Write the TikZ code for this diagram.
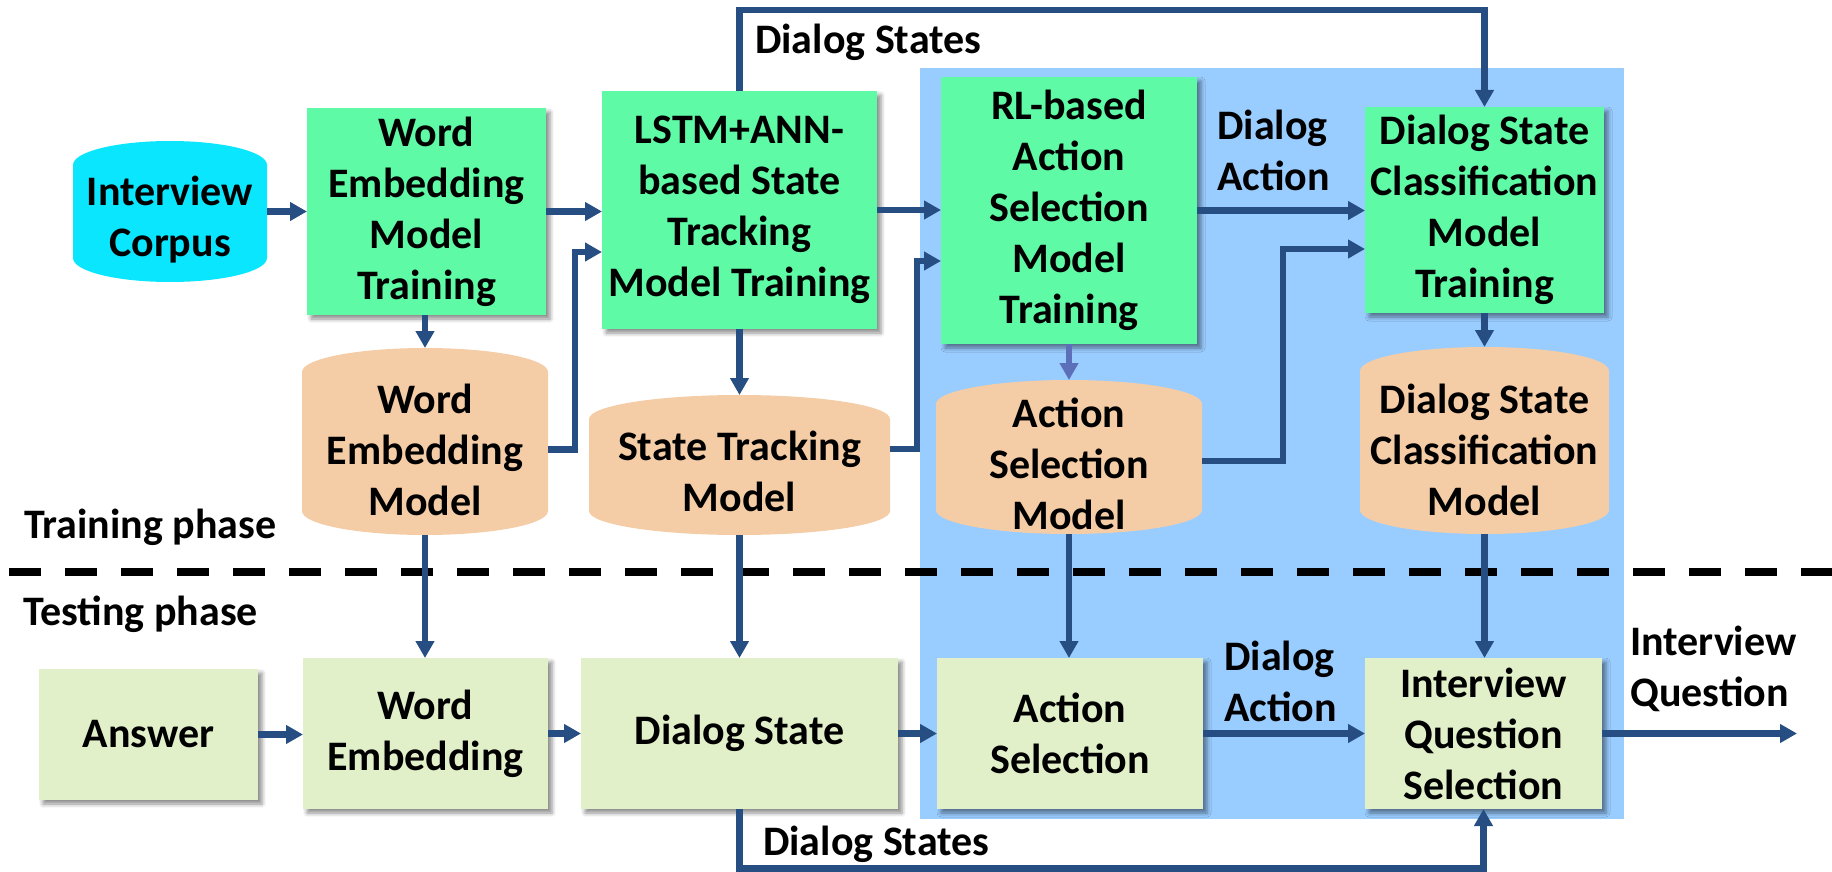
\documentclass[tikz,border=0pt]{standalone}
\usepackage{fontspec}
\setmainfont{Carlito}
\usetikzlibrary{arrows.meta,calc,shadows.blur}
\definecolor{mint}{HTML}{5FFAA5}
\definecolor{paleg}{HTML}{E2F0CA}
\definecolor{peach}{HTML}{F4CCA6}
\definecolor{cyanc}{HTML}{0BE6FF}
\definecolor{region}{HTML}{99CCFF}
\definecolor{arr}{HTML}{264E83}
\definecolor{arrlight}{HTML}{5C6FB9}
\tikzset{
  box/.style={rectangle, inner sep=0pt, outer sep=0pt, align=center,
    blur shadow={shadow xshift=4pt, shadow yshift=-4pt, shadow blur radius=4pt, shadow opacity=45}},
  trainbox/.style={box, fill=mint},
  testbox/.style={box, fill=paleg},
  can/.style={rectangle, inner sep=0pt, outer sep=0pt,
    path picture={\fill[#1] let \p1=(path picture bounding box.north west),
      \p2=(path picture bounding box.south east), \n1={(\x2-\x1)/2} in
      (\x1,\y1-24pt) arc[start angle=180,end angle=0,x radius=\n1,y radius=24pt]
      -- (\x2,\y2+24pt) arc[start angle=0,end angle=-180,x radius=\n1,y radius=24pt] -- cycle;}},
  cantext/.style={align=center, inner sep=0pt},
  conn/.style={draw=arr, line width=6.5pt, -{Triangle[length=17pt,width=18pt]}},
  lbl/.style={align=left, inner sep=0pt},
}
\begin{document}
\begin{tikzpicture}[x=1pt,y=-1pt,font=\fontsize{42}{51}\selectfont\bfseries]
\useasboundingbox (0,0) rectangle (1832,872);
% shaded region
\fill[region] (920,68) rectangle (1624,819);

% training phase
\node[can=cyanc, minimum width=194pt, minimum height=141pt,
  label={[cantext,yshift=-8pt]center:{Interview\\Corpus}}] (corpus) at (170,211.5) {};
\node[trainbox, minimum width=239pt, minimum height=207pt] (wetrain) at (426.5,211.5) {Word\\Embedding\\Model\\Training};
\node[can=peach, minimum width=246pt, minimum height=187pt,
  label={[cantext,yshift=-8pt]center:{Word\\Embedding\\Model}}] (wemodel) at (425,441.5) {};
\node[trainbox, minimum width=275pt, minimum height=238pt] (lstm) at (739.5,210) {LSTM+ANN-\\based State\\Tracking\\Model Training};
\node[can=peach, minimum width=301pt, minimum height=140pt,
  label={[cantext,yshift=-6pt]center:{State Tracking\\Model}}] (stmodel) at (739.5,465) {};
\node[trainbox, minimum width=256pt, minimum height=267pt] (rl) at (1069,210.5) {RL-based\\Action\\Selection\\Model\\Training};
\node[can=peach, minimum width=266pt, minimum height=154pt,
  label={[cantext,yshift=-7pt]center:{Action\\Selection\\Model}}] (asmodel) at (1069,457) {};
\node[trainbox, minimum width=239pt, minimum height=206pt] (dsc) at (1484.5,210) {Dialog State\\Classification\\Model\\Training};
\node[can=peach, minimum width=249pt, minimum height=187pt,
  label={[cantext,yshift=-9pt]center:{Dialog State\\Classification\\Model}}] (dscmodel) at (1484.5,440.5) {};

% testing phase
\node[testbox, minimum width=219pt, minimum height=131pt] (answer) at (148.5,734.5) {Answer};
\node[testbox, minimum width=245pt, minimum height=151pt] (we) at (425.5,733.5) {Word\\Embedding};
\node[testbox, minimum width=317pt, minimum height=151pt] (ds) at (739.5,733.5) {Dialog State};
\node[testbox, minimum width=266pt, minimum height=151pt] (as) at (1070,733.5) {Action\\Selection};
\node[testbox, minimum width=237pt, minimum height=151pt] (iqs) at (1483.5,733.5) {Interview\\Question\\Selection};
\coordinate (out) at (1797,733.5);

% phase separator
\draw[line width=8pt, dash pattern=on 32pt off 24pt] (9,572) -- (1832,572);

% connectors (training)
\draw[conn] (corpus) -- (wetrain);
\draw[conn] (wetrain.east) -- (wetrain.east -| lstm.west);
\draw[conn] (wemodel.north |- wetrain.south) -- (wemodel.north);
\draw[conn] ($(wemodel.east)+(0,8)$) -- ++(27,0) |- ($(lstm.west)+(0,42)$);
\draw[conn] (lstm) -- (stmodel);
\draw[conn] (lstm.north) -- ++(0,-81) -| (dsc.north);
\draw[conn] (lstm.east) -- (lstm.east -| rl.west);
\draw[conn] ($(stmodel.east)+(0,-16)$) -- ++(27,0) |- ($(rl.west)+(0,50.5)$);
\draw[conn, draw=arrlight] (rl) -- (asmodel);
\draw[conn] (rl.east) -- (rl.east -| dsc.west);
\draw[conn] ($(asmodel.east)+(0,4)$) -- ++(81,0) |- ($(dsc.west)+(0,39)$);
\draw[conn] (dsc) -- (dscmodel);

% connectors (testing)
\draw[conn] (wemodel.south) -- (wemodel.south |- we.north);
\draw[conn] (stmodel.south) -- (stmodel.south |- ds.north);
\draw[conn] (asmodel.south) -- (asmodel.south |- as.north);
\draw[conn] (dscmodel.south) -- (dscmodel.south |- iqs.north);
\draw[conn] (answer.east) -- (answer.east -| we.west);
\draw[conn] (we) -- (ds);
\draw[conn] (ds) -- (as);
\draw[conn] (as) -- (iqs);
\draw[conn] (iqs) -- (out);
\draw[conn] (ds.south) -- ++(0,59.5) -| (iqs.south);

% labels
\node[lbl, anchor=base west] (lblds1) at (755,54) {Dialog States};
\node[lbl, anchor=west] (lblda1) at (1217,150) {Dialog\\Action};
\node[lbl, anchor=west] (lblda2) at (1224,681) {Dialog\\Action};
\node[lbl, anchor=west] (lbliq) at (1630,669) {Interview\\Question};
\node[lbl, anchor=base west] (lblds2) at (763,855) {Dialog States};
\node[lbl, anchor=base west] (train) at (24,538) {Training phase};
\node[lbl, anchor=base west] (test) at (23,625) {Testing phase};
\end{tikzpicture}
\end{document}
